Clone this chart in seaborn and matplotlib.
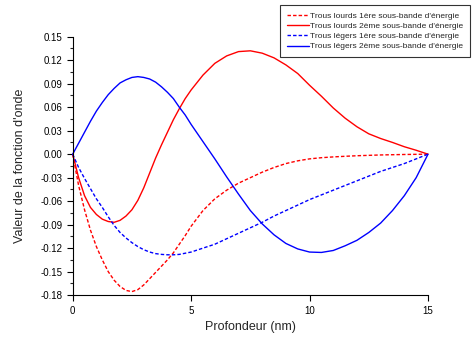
import numpy as np
import pandas as pd
import seaborn as sns
import matplotlib
matplotlib.use("Agg")
import matplotlib.pyplot as plt
from matplotlib.ticker import MultipleLocator, FormatStrFormatter

# profondeur (nm)
depth = [0, 0.25, 0.5, 0.75, 1.0, 1.25, 1.5, 1.75, 2.0, 2.25, 2.5, 2.75, 3.0, 3.25, 3.5,
         3.75, 4.0, 4.25, 4.5, 4.75, 5.0,
         5.5, 6.0, 6.5, 7.0, 7.5, 8.0, 8.5, 9.0, 9.5, 10.0, 10.5, 11.0, 11.5, 12.0, 12.5,
         13.0, 13.5, 14.0, 14.5, 15.0]

lourds_1 = [0, -0.040, -0.071, -0.097, -0.118, -0.135, -0.150, -0.161, -0.169, -0.174, -0.1755,
            -0.173, -0.167, -0.159, -0.151, -0.143, -0.135, -0.126, -0.115, -0.104, -0.092,
            -0.072, -0.057, -0.046, -0.037, -0.030, -0.023, -0.017, -0.012, -0.0085, -0.006,
            -0.0045, -0.0035, -0.0027, -0.002, -0.0015, -0.001, -0.0007, -0.0004, -0.0002, 0]
lourds_2 = [0, -0.030, -0.053, -0.068, -0.077, -0.083, -0.086, -0.087, -0.0845, -0.079, -0.071,
            -0.059, -0.043, -0.024, -0.005, 0.012, 0.028, 0.044, 0.058, 0.071, 0.082,
            0.101, 0.116, 0.1255, 0.131, 0.132, 0.129, 0.123, 0.114, 0.103, 0.088, 0.074,
            0.059, 0.046, 0.035, 0.026, 0.020, 0.015, 0.0095, 0.005, 0]
legers_1 = [0, -0.017, -0.031, -0.044, -0.057, -0.068, -0.080, -0.091, -0.100, -0.107, -0.113,
            -0.118, -0.122, -0.125, -0.127, -0.128, -0.1285, -0.1285, -0.128, -0.1265, -0.125,
            -0.120, -0.115, -0.108, -0.101, -0.094, -0.087, -0.079, -0.072, -0.065, -0.058,
            -0.052, -0.046, -0.040, -0.034, -0.028, -0.022, -0.017, -0.012, -0.006, 0]
legers_2 = [0, 0.014, 0.028, 0.042, 0.055, 0.066, 0.076, 0.084, 0.091, 0.095, 0.098, 0.099,
            0.098, 0.096, 0.092, 0.086, 0.079, 0.071, 0.060, 0.050, 0.038,
            0.016, -0.006, -0.029, -0.051, -0.072, -0.089, -0.103, -0.114, -0.121, -0.125,
            -0.1255, -0.123, -0.117, -0.110, -0.100, -0.088, -0.072, -0.053, -0.030, 0]

labels = ["Trous lourds 1ère sous-bande d'énergie",
          "Trous lourds 2ème sous-bande d'énergie",
          "Trous légers 1ère sous-bande d'énergie",
          "Trous légers 2ème sous-bande d'énergie"]

sns.set_style("ticks")
plt.rcParams['font.family'] = ['Liberation Sans', 'DejaVu Sans']

fig = plt.figure(figsize=(4.77, 3.40), dpi=100)
ax = fig.add_axes([0.1524, 0.132, 0.7449, 0.760])

series = [(lourds_1, 'red', (0, (2.5, 1.5))),
          (lourds_2, 'red', '-'),
          (legers_1, 'blue', (0, (2.5, 1.5))),
          (legers_2, 'blue', '-')]
for (vals, col, ls), lab in zip(series, labels):
    sns.lineplot(x=depth, y=vals, color=col, linestyle=ls, linewidth=1.0, label=lab,
                 ax=ax, clip_on=False)

ax.set_xlim(0, 15)
ax.set_ylim(-0.18, 0.15)
ax.xaxis.set_major_locator(MultipleLocator(5))
ax.yaxis.set_major_locator(MultipleLocator(0.03))
ax.yaxis.set_minor_locator(MultipleLocator(0.015))
ax.yaxis.set_major_formatter(FormatStrFormatter('%.2f'))
ax.spines['top'].set_visible(False)
ax.spines['right'].set_visible(False)
for s in ['left', 'bottom']:
    ax.spines[s].set_linewidth(0.8)
    ax.spines[s].set_color('black')
ax.tick_params(axis='both', which='major', direction='out', length=4, width=0.8,
               labelsize=7, colors='black')
ax.tick_params(axis='y', which='minor', direction='out', length=2.5, width=0.8)
ax.set_xlabel('Profondeur (nm)', fontsize=9)
ax.set_ylabel("Valeur de la fonction d'onde", fontsize=9, labelpad=10)

leg = ax.legend(loc='upper right', bbox_to_anchor=(470 / 477, 1 - 5 / 340),
                bbox_transform=fig.transFigure, fontsize=6, frameon=True,
                fancybox=False, handlelength=2.6, handletextpad=0.2,
                borderpad=0.8, labelspacing=0.3, borderaxespad=0)
leg.get_frame().set_edgecolor('black')
leg.get_frame().set_linewidth(0.8)
leg.set_zorder(5)

fig.savefig('out.png', dpi=100)
